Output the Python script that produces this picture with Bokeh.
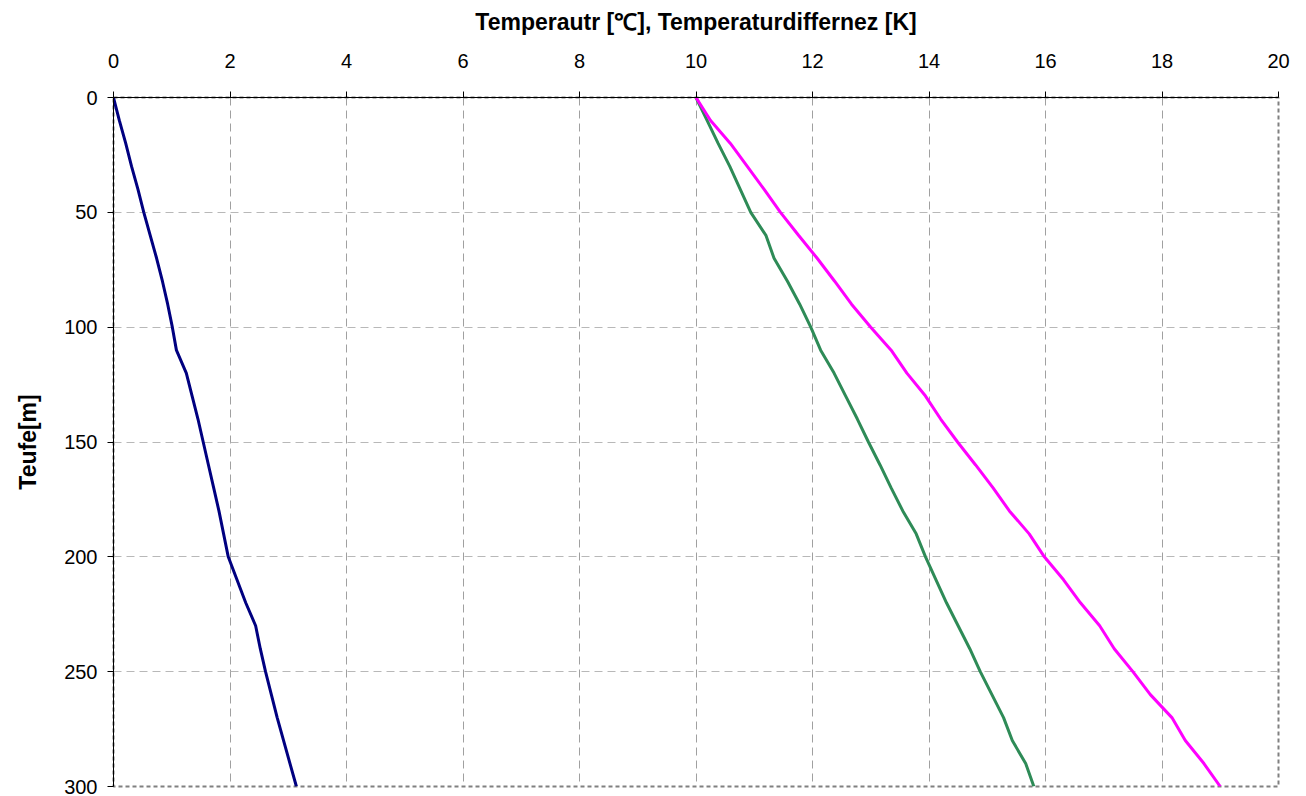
from bokeh.plotting import figure
from bokeh.models import Range1d, FixedTicker
from bokeh.embed import file_html
from bokeh.resources import INLINE

depth = [0, 10, 20, 30, 40, 50, 60, 70, 80, 90, 100, 110, 120, 130, 140, 150,
         160, 170, 180, 190, 200, 210, 220, 230, 240, 250, 260, 270, 280, 290, 300]
dT = [0.0, 0.10, 0.21, 0.31, 0.42, 0.52, 0.63, 0.74, 0.84, 0.93, 1.01, 1.08, 1.25,
      1.35, 1.45, 1.54, 1.63, 1.72, 1.81, 1.89, 1.97, 2.12, 2.27, 2.44, 2.52, 2.61,
      2.71, 2.81, 2.92, 3.03, 3.14]
T_green = [10.0, 10.19, 10.38, 10.58, 10.76, 10.94, 11.20, 11.34, 11.57, 11.78, 11.97,
           12.14, 12.37, 12.57, 12.77, 12.96, 13.16, 13.35, 13.55, 13.78, 13.94, 14.12,
           14.30, 14.50, 14.70, 14.88, 15.08, 15.28, 15.43, 15.66, 15.80]
T_pink = [10.0, 10.25, 10.59, 10.88, 11.17, 11.45, 11.76, 12.08, 12.38, 12.67, 13.0,
          13.35, 13.62, 13.94, 14.20, 14.49, 14.80, 15.10, 15.38, 15.72, 15.98, 16.31,
          16.60, 16.93, 17.18, 17.50, 17.80, 18.17, 18.40, 18.72, 19.0]
x_ticks = [0, 2, 4, 6, 8, 10, 12, 14, 16, 18, 20]
y_ticks = [0, 50, 100, 150, 200, 250, 300]

FONT = "Liberation Sans"

p = figure(width=1306, height=796, output_backend="svg", toolbar_location=None,
           x_range=Range1d(0, 20), y_range=Range1d(300, 0),
           x_axis_location="above", min_border_left=113, min_border_top=97,
           min_border_right=28, min_border_bottom=10)
p.background_fill_color = "white"
p.border_fill_color = "white"
p.outline_line_color = "#808080"
p.outline_line_width = 2
p.outline_line_dash = "4 3"

p.line(dT, depth, line_color="#000080", line_width=3)
p.line(T_green, depth, line_color="#2E8B57", line_width=3)
p.line(T_pink, depth, line_color="#FF00FF", line_width=3)

xa = p.xaxis[0]
xa.ticker = FixedTicker(ticks=x_ticks)
xa.axis_label = "Temperautr [℃], Temperaturdiffernez [K]"
ya = p.yaxis[0]
ya.ticker = FixedTicker(ticks=y_ticks)
ya.axis_label = "Teufe[m]"
for ax in (xa, ya):
    ax.axis_label_text_font = FONT
    ax.axis_label_text_font_style = "bold"
    ax.axis_label_text_font_size = "23px"
    ax.axis_label_text_color = "black"
    ax.major_label_text_font = FONT
    ax.major_label_text_font_size = "20px"
    ax.major_label_text_color = "black"
    ax.axis_line_color = "black"
    ax.axis_line_width = 1
    ax.major_tick_line_color = "black"
    ax.major_tick_out = 6
    ax.major_tick_in = 0
    ax.minor_tick_line_color = None
xa.axis_label_standoff = 16
xa.major_label_standoff = 24
ya.axis_label_standoff = 20
ya.major_label_standoff = 10

p.xgrid.ticker = FixedTicker(ticks=x_ticks)
p.ygrid.ticker = FixedTicker(ticks=y_ticks)
p.xgrid.grid_line_color = "#a0a0a0"
p.xgrid.grid_line_dash = "8 5"
p.ygrid.grid_line_color = "#b8b8b8"
p.ygrid.grid_line_dash = "8 5"

open("out.html", "w").write(file_html(p, INLINE))
